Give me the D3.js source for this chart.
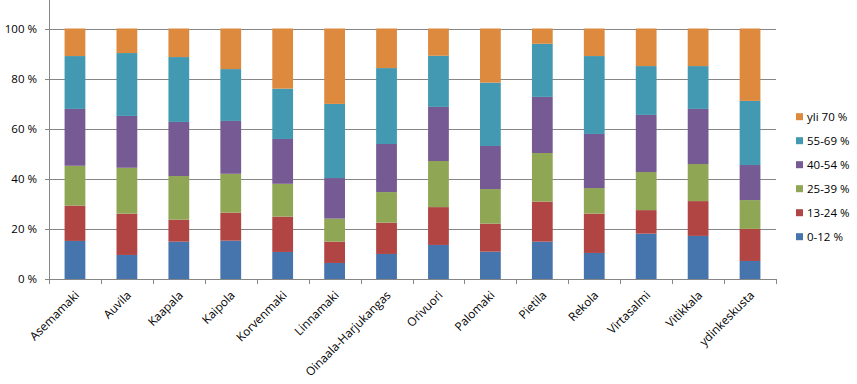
<!DOCTYPE html>
<html>
<head>
<meta charset="utf-8">
<script src="https://cdnjs.cloudflare.com/ajax/libs/d3/7.8.5/d3.min.js"></script>
<style>
  body { margin: 0; background: #fff; }
  svg text { font-family: "Open Sans", sans-serif; fill: #000; }
</style>
</head>
<body>
<div id="chart"></div>
<script>
var width = 857, height = 384;

// areas along the x axis
var areas = ["Asemamaki", "Auvila", "Kaapala", "Kaipola", "Korvenmaki", "Linnamaki",
  "Oinaala-Harjukangas", "Orivuori", "Palomaki", "Pietila", "Rekola", "Virtasalmi",
  "Vitikkala", "ydinkeskusta"];

// share of each group per area (%)
var s0_12  = [15.2, 9.6, 14.9, 15.3, 10.8, 6.4, 10.0, 13.6, 10.9, 14.9, 10.4, 18.1, 17.2, 7.2];
var s13_24 = [14.1, 16.5, 8.8, 11.2, 14.1, 8.5, 12.5, 15.1, 11.2, 16.0, 15.7, 9.4, 13.9, 12.8];
var s25_39 = [15.9, 18.3, 17.4, 15.5, 13.1, 9.2, 12.2, 18.4, 13.8, 19.4, 10.2, 15.2, 14.8, 11.5];
var s40_54 = [22.7, 20.7, 21.6, 21.1, 17.9, 16.2, 19.2, 21.6, 17.2, 22.4, 21.6, 22.8, 22.0, 14.0];
var s55_69 = [21.1, 25.1, 25.9, 20.7, 20.1, 29.6, 30.3, 20.4, 25.3, 21.2, 31.1, 19.5, 17.1, 25.6];
var s70    = [11.0, 9.8, 11.4, 16.2, 24.0, 30.1, 15.8, 10.9, 21.6, 6.1, 11.0, 15.0, 15.0, 28.9];

var seriesNames = ["0-12 %", "13-24 %", "25-39 %", "40-54 %", "55-69 %", "yli 70 %"];
var seriesValues = [s0_12, s13_24, s25_39, s40_54, s55_69, s70];
var colors = ["#4674AD", "#B04544", "#8FA654", "#765A94", "#4399B2", "#DE8A3E"];

var yTicks = [0, 20, 40, 60, 80, 100];

var rows = areas.map(function(a, i) {
  var r = { area: a };
  seriesNames.forEach(function(s, j) { r[s] = seriesValues[j][i]; });
  return r;
});

var stacked = d3.stack().keys(seriesNames).offset(d3.stackOffsetExpand)(rows);

// plot box (note: "top" is reserved on window)
var pLeft = 49, pRight = 776, pTop = 28.5, pBottom = 279;

var svg = d3.select('#chart').append('svg')
  .attr('width', width)
  .attr('height', height);

var x = d3.scaleBand().domain(areas).range([pLeft, pRight]).paddingInner(0.6).paddingOuter(0.3);
var xb = d3.scaleBand().domain(areas).range([pLeft, pRight]);
var y = d3.scaleLinear().domain([0, 1]).range([pBottom, pTop]);

// gridlines
svg.append('g')
  .selectAll('line')
  .data(yTicks.slice(1))
  .enter().append('line')
  .attr('x1', pLeft - 4).attr('x2', pRight)
  .attr('y1', function(d) { return Math.round(y(d / 100)) + 0.5; })
  .attr('y2', function(d) { return Math.round(y(d / 100)) + 0.5; })
  .attr('stroke', '#868686');

// bars
svg.append('g')
  .selectAll('g')
  .data(stacked)
  .enter().append('g')
  .attr('fill', function(d, i) { return colors[i]; })
  .selectAll('rect')
  .data(function(d) { return d; })
  .enter().append('rect')
  .attr('x', function(d) { return x(d.data.area); })
  .attr('width', x.bandwidth())
  .attr('y', function(d) { return y(d[1]); })
  .attr('height', function(d) { return y(d[0]) - y(d[1]); });

// y axis
svg.append('line')
  .attr('x1', pLeft + 0.5).attr('x2', pLeft + 0.5)
  .attr('y1', 0).attr('y2', pBottom)
  .attr('stroke', '#868686');

svg.append('g')
  .selectAll('text')
  .data(yTicks)
  .enter().append('text')
  .attr('x', 37)
  .attr('y', function(d) { return y(d / 100); })
  .attr('dy', '0.35em')
  .attr('text-anchor', 'end')
  .style('font-size', '11.5px')
  .text(function(d) { return d + ' %'; });

svg.append('line')
  .attr('x1', pLeft - 4).attr('x2', pLeft)
  .attr('y1', Math.round(pBottom) + 0.5).attr('y2', Math.round(pBottom) + 0.5)
  .attr('stroke', '#868686');

// x axis
svg.append('line')
  .attr('x1', pLeft).attr('x2', pRight)
  .attr('y1', Math.round(pBottom) + 0.5).attr('y2', Math.round(pBottom) + 0.5)
  .attr('stroke', '#868686');

var edges = areas.map(function(a) { return xb(a); }).concat([pRight]);
svg.append('g')
  .selectAll('line')
  .data(edges)
  .enter().append('line')
  .attr('x1', function(d) { return Math.round(d) + 0.5; })
  .attr('x2', function(d) { return Math.round(d) + 0.5; })
  .attr('y1', pBottom).attr('y2', pBottom + 5)
  .attr('stroke', '#868686');

svg.append('g')
  .selectAll('text')
  .data(areas)
  .enter().append('text')
  .attr('transform', function(d) {
    return 'translate(' + (xb(d) + xb.bandwidth() / 2 + 5) + ',' + 296 + ') rotate(-45)';
  })
  .attr('text-anchor', 'end')
  .style('font-size', '11.8px')
  .text(function(d) { return d; });

// legend, top entry is the last series
var legend = svg.append('g')
  .selectAll('g')
  .data(seriesNames.slice().reverse())
  .enter().append('g')
  .attr('transform', function(d, i) { return 'translate(796,' + (116.7 + i * 24) + ')'; });

legend.append('rect')
  .attr('x', 0).attr('y', -3.5)
  .attr('width', 7).attr('height', 7)
  .attr('fill', function(d) { return colors[seriesNames.indexOf(d)]; });

legend.append('text')
  .attr('x', 11)
  .attr('dy', '0.35em')
  .style('font-size', '11.5px')
  .text(function(d) { return d; });
</script>
</body>
</html>
